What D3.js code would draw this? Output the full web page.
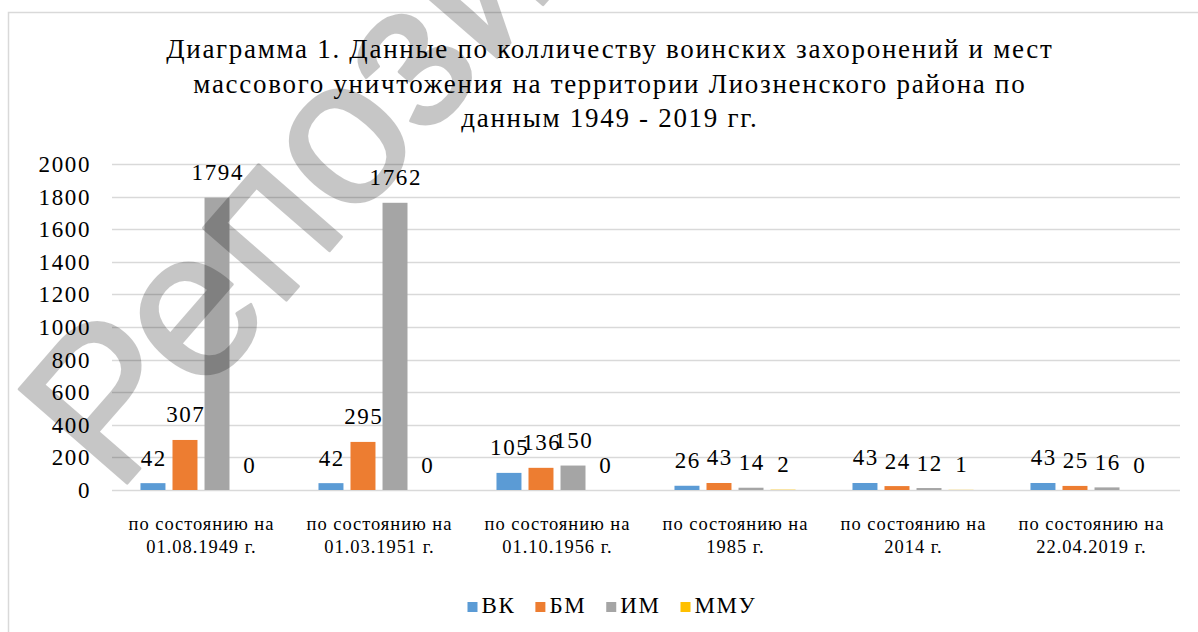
<!DOCTYPE html>
<html>
<head>
<meta charset="utf-8">
<script src="https://cdn.jsdelivr.net/npm/d3@7"></script>
<style>
  body { margin: 0; background: #fff; }
  svg { display: block; }
</style>
</head>
<body>
<div id="chart"></div>
<script>
// data
const categories = [
    ['по состоянию на', '01.08.1949 г.'],
    ['по состоянию на', '01.03.1951 г.'],
    ['по состоянию на', '01.10.1956 г.'],
    ['по состоянию на', '1985 г.'],
    ['по состоянию на', '2014 г.'],
    ['по состоянию на', '22.04.2019 г.']
]
const seriesNames = ['ВК', 'БМ', 'ИМ', 'ММУ']
const vk = [42, 42, 105, 26, 43, 43]
const bm = [307, 295, 136, 43, 24, 25]
const im = [1794, 1762, 150, 14, 12, 16]
const mmu = [0, 0, 0, 2, 1, 0]
const colors = ['#5b9bd5', '#ed7d31', '#a5a5a5', '#ffc000']
const yTicks = [0, 200, 400, 600, 800, 1000, 1200, 1400, 1600, 1800, 2000]
const titleLines = [
    'Диаграмма 1. Данные по колличеству воинских захоронений и мест',
    'массового уничтожения на территории Лиозненского района по',
    'данным 1949 - 2019 гг.'
]
const watermark = 'Репозиторий'

const values = [vk, bm, im, mmu]

var width = 1198,
    height = 632,
    serif = '"Liberation Serif", "Times New Roman", serif',
    margin = {top: 164, bottom: 142, left: 112, right: 18};

var svg = d3.select('#chart')
    .append('svg')
        .attr('width', width)
        .attr('height', height);

// the picture is stretched sideways, so text gets a little extra letter spacing
function label(sel, size, spacing){
    return sel.style('font-family', serif)
        .style('font-size', size + 'px')
        .style('letter-spacing', spacing + 'px')
        .style('fill', '#000')
}

// chart border
svg.append('rect')
    .attr('x', 8.5)
    .attr('y', 12.5)
    .attr('width', 1220)
    .attr('height', 660)
    .style('fill', 'none')
    .style('stroke', '#d9d9d9')
    .style('stroke-width', 1.5);

// title
titleLines.forEach(function(t, i){
    label(svg.append('text'), 27, 1.7)
        .attr('x', 609 + 0.85)
        .attr('y', 58 + i * 34.5)
        .attr('text-anchor', 'middle')
        .text(t)
})

var x0 = d3.scaleBand()
    .domain(d3.range(categories.length))
    .range([margin.left, width - margin.right])
    .padding(0);

var groupW = x0.bandwidth() * 0.68;
var x1 = d3.scaleBand()
    .domain(d3.range(seriesNames.length))
    .range([(x0.bandwidth() - groupW) / 2, (x0.bandwidth() + groupW) / 2])
    .paddingInner(0.22);

var y = d3.scaleLinear()
    .domain([0, 2000])
    .range([height - margin.bottom, margin.top]);

// gridlines
svg.append('g')
    .selectAll('line')
    .data(yTicks)
    .join('line')
    .attr('x1', margin.left)
    .attr('x2', width - margin.right)
    .attr('y1', d => Math.round(y(d)) + 0.5)
    .attr('y2', d => Math.round(y(d)) + 0.5)
    .style('stroke', '#d9d9d9')
    .style('stroke-width', 1.3);

// y labels
label(svg.append('g').selectAll('text')
    .data(yTicks)
    .join('text'), 23, 1.6)
    .attr('x', 91)
    .attr('y', d => y(d) + 8)
    .attr('text-anchor', 'end')
    .text(d => d);

// bars
var groups = svg.append('g')
    .selectAll('g')
    .data(categories.map((c, i) => i))
    .join('g')
    .attr('transform', i => 'translate(' + x0(i) + ',0)');

groups.selectAll('rect')
    .data(i => values.map((v, s) => ({s: s, v: v[i]})))
    .join('rect')
    .attr('x', d => x1(d.s))
    .attr('width', x1.bandwidth())
    .attr('y', d => y(d.v))
    .attr('height', d => y(0) - y(d.v))
    .style('fill', d => colors[d.s]);

label(groups.selectAll('text')
    .data(i => values.map((v, s) => ({s: s, v: v[i]})))
    .join('text'), 23, 1.6)
    .attr('x', d => x1(d.s) + x1.bandwidth() / 2 + 0.8)
    .attr('y', d => y(d.v) - 17.5)
    .attr('text-anchor', 'middle')
    .text(d => d.v);

// category labels
categories.forEach(function(c, i){
    c.forEach(function(t, j){
        label(svg.append('text'), 18.5, 0.95)
            .attr('x', x0(i) + x0.bandwidth() / 2 + 0.5)
            .attr('y', 530 + j * 23)
            .attr('text-anchor', 'middle')
            .text(t)
    })
})

// legend
var legend = svg.append('g');
var lx = 0;
seriesNames.forEach(function(name, i){
    var item = legend.append('g').attr('transform', 'translate(' + lx + ',0)');
    item.append('rect')
        .attr('x', 0)
        .attr('y', -11)
        .attr('width', 10)
        .attr('height', 10)
        .style('fill', colors[i]);
    var t = label(item.append('text'), 23, 1.6)
        .attr('x', 14)
        .attr('y', 0)
        .text(name);
    lx += 14 + t.node().getComputedTextLength() + 20;
})
legend.attr('transform', 'translate(' + (612 - (lx - 20) / 2) + ',613)');

// watermark on top
svg.append('text')
    .attr('transform', 'translate(116,496) rotate(-49)')
    .style('font-family', '"Liberation Sans", Arial, sans-serif')
    .style('font-size', '208px')
    .style('fill', '#000')
    .style('stroke', '#000')
    .style('stroke-width', 3)
    .style('stroke-linejoin', 'round')
    .style('opacity', 0.22)
    .text(watermark);
</script>
</body>
</html>
